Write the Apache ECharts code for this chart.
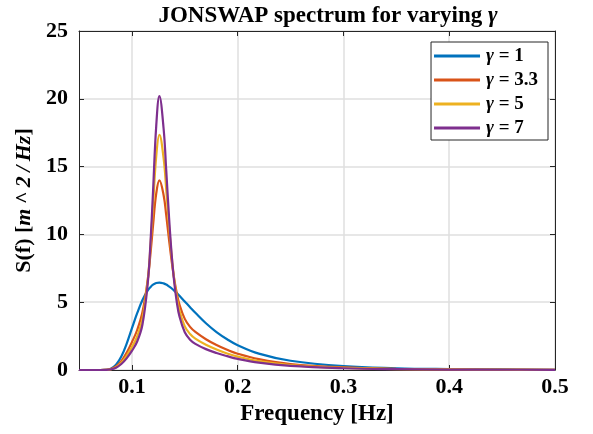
<!DOCTYPE html>
<html>
<head>
<meta charset="utf-8">
<script src="https://cdn.jsdelivr.net/npm/echarts@6/dist/echarts.min.js"></script>
<style>
  html, body { margin: 0; padding: 0; background: #fff; }
  #chart { width: 593px; height: 434px; }
</style>
</head>
<body>
<div id="chart"></div>
<script>
// frequency samples [Hz]
const freq = [0.05, 0.07, 0.075, 0.08, 0.085, 0.09, 0.095, 0.10, 0.105, 0.11, 0.115, 0.1175, 0.12, 0.123, 0.126,
  0.13, 0.1325, 0.135, 0.1375, 0.14, 0.1425, 0.145, 0.15, 0.155, 0.16, 0.17, 0.18, 0.19, 0.20, 0.22, 0.25,
  0.30, 0.35, 0.40, 0.45, 0.50];

// S(f), one array per gamma
const gamma1 = [0, 0, 0.01, 0.10, 0.39, 0.99, 1.93, 3.07, 4.19, 5.16, 5.87, 6.11, 6.29, 6.41, 6.45,
  6.39, 6.30, 6.17, 6.03, 5.85, 5.67, 5.47, 5.05, 4.63, 4.22, 3.45, 2.80, 2.27, 1.83, 1.21, 0.68,
  0.28, 0.13, 0.07, 0.04, 0.02];
const gamma33 = [0, 0, 0.01, 0.07, 0.26, 0.65, 1.27, 2.05, 2.95, 4.27, 6.67, 8.50, 10.66, 13.0, 13.98,
  12.89, 11.40, 9.69, 8.09, 6.71, 5.64, 4.82, 3.77, 3.18, 2.81, 2.27, 1.84, 1.49, 1.20, 0.80, 0.44,
  0.19, 0.09, 0.05, 0.03, 0.02];
const gamma5 = [0, 0, 0.01, 0.05, 0.21, 0.53, 1.04, 1.69, 2.48, 3.79, 6.61, 9.04, 12.14, 15.75, 17.35,
  15.60, 13.28, 10.74, 8.49, 6.67, 5.33, 4.37, 3.22, 2.65, 2.31, 1.86, 1.51, 1.22, 0.99, 0.65, 0.36,
  0.15, 0.07, 0.04, 0.02, 0.01];
const gamma7 = [0, 0, 0.01, 0.05, 0.17, 0.44, 0.86, 1.41, 2.10, 3.36, 6.41, 9.28, 13.18, 17.99, 20.2,
  17.79, 14.68, 11.42, 8.63, 6.49, 4.98, 3.94, 2.78, 2.23, 1.93, 1.54, 1.25, 1.02, 0.82, 0.54, 0.30,
  0.13, 0.06, 0.03, 0.02, 0.01];

const seriesNames = ['γ = 1', 'γ = 3.3', 'γ = 5', 'γ = 7'];
const seriesValues = [gamma1, gamma33, gamma5, gamma7];
const colors = ['#0072BD', '#D95319', '#EDB120', '#7E2F8E'];
const xTicks = [0.1, 0.2, 0.3, 0.4, 0.5];

const font = '"Liberation Serif", "Times New Roman", serif';
const axisColor = '#262626';
const gridColor = '#dfdfdf';

const chart = echarts.init(document.getElementById('chart'));

const baseX = {
  type: 'value',
  min: 0.05,
  max: 0.5,
  axisLine: { show: true, onZero: false, lineStyle: { color: axisColor, width: 1 } },
  axisTick: { show: true, inside: true, length: 5, customValues: xTicks, lineStyle: { color: axisColor } },
  splitLine: { show: false },
};
const baseY = {
  type: 'value',
  min: 0,
  max: 25,
  interval: 5,
  axisLine: { show: true, onZero: false, lineStyle: { color: axisColor, width: 1 } },
  axisTick: { show: true, inside: true, length: 5, lineStyle: { color: axisColor } },
  splitLine: { show: false },
};

const options = {
  animation: false,
  color: colors,
  title: {
    text: '{t|JONSWAP spectrum for varying }{g|γ}',
    left: 323,
    textAlign: 'center',
    top: 0,
    textStyle: {
      rich: {
        t: { fontFamily: font, fontWeight: 'bold', fontSize: 23, color: '#000' },
        g: { fontFamily: font, fontWeight: 'bold', fontStyle: 'italic', fontSize: 23, color: '#000' },
      },
    },
  },
  grid: { left: 79, right: 38, top: 31, bottom: 64, containLabel: false },
  legend: {
    right: 45,
    top: 42,
    orient: 'vertical',
    align: 'left',
    backgroundColor: '#fff',
    borderColor: '#262626',
    borderWidth: 1,
    padding: [2, 10, 0, 3],
    itemWidth: 46,
    itemHeight: 3,
    itemGap: 0,
    icon: 'rect',
    formatter: (name) => `{g|γ}{t|${name.slice(1)}}`,
    textStyle: {
      lineHeight: 24,
      padding: [0, 0, 0, 1],
      rich: {
        g: { fontFamily: font, fontStyle: 'italic', fontWeight: 'bold', fontSize: 19, lineHeight: 24, color: '#000' },
        t: { fontFamily: font, fontWeight: 'bold', fontSize: 19, lineHeight: 24, color: '#000' },
      },
    },
  },
  xAxis: [
    {
      ...baseX,
      position: 'bottom',
      name: 'Frequency [Hz]',
      nameLocation: 'middle',
      nameGap: 28,
      nameTextStyle: { fontFamily: font, fontWeight: 'bold', fontSize: 23, color: '#000' },
      axisLabel: {
        customValues: xTicks,
        fontFamily: font,
        fontWeight: 'bold',
        fontSize: 22,
        color: '#000',
        margin: 6,
        formatter: (v) => v.toFixed(1),
      },
      splitLine: { show: true, lineStyle: { color: gridColor, width: 1.5 } },
    },
    { ...baseX, position: 'top', axisLabel: { show: false } },
  ],
  yAxis: [
    {
      ...baseY,
      position: 'left',
      name: '{a|S(f) [}{b|m\u2009^\u20092\u2009/\u2009Hz}{a|]}',
      nameLocation: 'middle',
      nameGap: 41,
      nameTextStyle: {
        rich: {
          a: { fontFamily: font, fontWeight: 'bold', fontSize: 22, color: '#000' },
          b: { fontFamily: font, fontWeight: 'bold', fontStyle: 'italic', fontSize: 22, color: '#000' },
        },
      },
      axisLabel: { fontFamily: font, fontWeight: 'bold', fontSize: 22, color: '#000', margin: 11 },
      splitLine: { show: true, lineStyle: { color: gridColor, width: 1.5 } },
    },
    { ...baseY, position: 'right', axisLabel: { show: false } },
  ],
  series: seriesNames.map((name, i) => ({
    name,
    type: 'line',
    xAxisIndex: 0,
    yAxisIndex: 0,
    showSymbol: false,
    symbol: 'none',
    smooth: 0.4,
    lineStyle: { width: 2.2 },
    data: freq.map((f, j) => [f, seriesValues[i][j]]),
    z: 2 + i,
  })),
};

chart.setOption(options);
</script>
</body>
</html>
